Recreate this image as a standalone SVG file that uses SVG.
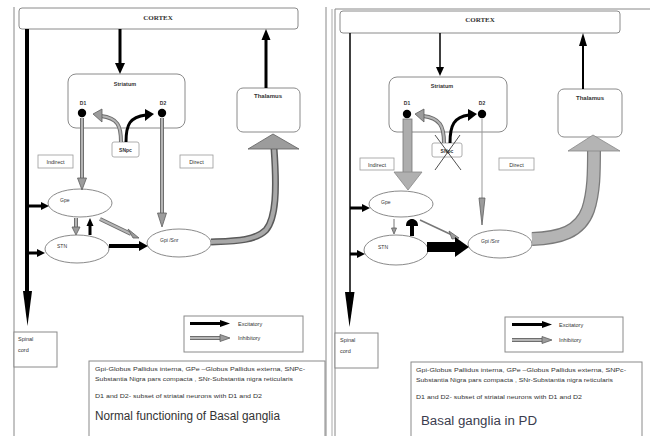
<svg xmlns="http://www.w3.org/2000/svg" width="650" height="436" viewBox="0 0 650 436">
<style>
.box{fill:#fff;stroke:#8a8a8a;stroke-width:1}
.lbl{fill:#fff;stroke:#999;stroke-width:0.8}
.t{font-family:"Liberation Sans",Arial,sans-serif;fill:#333}
.s{font-size:5.5px}
.b{font-weight:bold}
.cx{font-family:"Liberation Serif","Times New Roman",serif;font-size:7px;font-weight:bold;fill:#333}
.ex{stroke:#000;fill:none}
.hx{fill:#000}
.io{stroke:#6e6e6e;fill:none;stroke-width:4}
.ii{stroke:#b5b5b5;fill:none;stroke-width:2}
.hi{fill:#9c9c9c;stroke:#5e5e5e;stroke-width:0.8}
.frame{stroke:#888;stroke-width:1;fill:none}
</style>

<!-- LEFT PANEL -->
<g id="left-frame">
<line class="frame" x1="14" y1="7" x2="14" y2="436"/>
<line class="frame" x1="326" y1="7" x2="326" y2="436"/>
</g>
<g id="L-cortex"><rect class="box" x="19" y="8" width="279" height="21" rx="3"/><text class="cx" x="158" y="20" text-anchor="middle">CORTEX</text></g>
<g id="L-striatum"><rect class="box" x="68" y="74" width="117" height="54" rx="8"/><text class="t s b" x="125" y="86" text-anchor="middle">Striatum</text>
<text class="t b" font-size="5" x="83" y="105" text-anchor="middle">D1</text><circle cx="82" cy="113" r="4.2" fill="#000"/>
<text class="t b" font-size="5" x="163" y="105" text-anchor="middle">D2</text><circle cx="162" cy="113" r="4.2" fill="#000"/></g>
<g id="L-thalamus"><rect class="box" x="237" y="88" width="63" height="44" rx="6"/><text class="t b" font-size="6" x="268" y="98" text-anchor="middle">Thalamus</text></g>
<g id="L-snpc"><rect class="lbl" x="112" y="142" width="27" height="15" rx="2"/><text class="t b" font-size="5" x="125.5" y="152" text-anchor="middle">SNpc</text></g>
<g id="L-indirect"><rect class="lbl" x="38" y="155" width="35" height="13"/><text class="t s" x="55.5" y="164" text-anchor="middle">Indirect</text></g>
<g id="L-direct"><rect class="lbl" x="180" y="155" width="33" height="13"/><text class="t s" x="196.5" y="164" text-anchor="middle">Direct</text></g>
<g id="L-gpe"><ellipse class="box" cx="80" cy="203" rx="32" ry="14"/><text class="t" font-size="5" x="60" y="202">Gpe</text></g>
<g id="L-stn"><ellipse class="box" cx="77" cy="249" rx="32" ry="14"/><text class="t" font-size="5" x="57" y="248">STN</text></g>
<g id="L-gpi"><ellipse class="box" cx="179" cy="243" rx="32" ry="14"/><text class="t" font-size="5" x="160" y="242">Gpi /Snr</text></g>
<g id="L-spinal"><rect class="box" x="14" y="332" width="43" height="35"/><text class="t s" x="18" y="341">Spinal</text><text class="t s" x="18" y="352">cord</text></g>
<g id="L-legend"><rect class="box" x="184" y="316" width="119" height="36"/>
<line class="ex" stroke-width="3" x1="190" y1="323.5" x2="221" y2="323.5"/><polygon class="hx" points="220,320 230,323.5 220,327"/>
<text class="t s" x="238" y="325.5">Excitatory</text>
<line class="io" x1="190" y1="338" x2="221" y2="338"/><line class="ii" x1="190" y1="338" x2="221" y2="338"/><polygon class="hi" points="220,334.5 230,338 220,341.5"/>
<text class="t s" x="238" y="340">Inhibitory</text></g>
<g id="L-notes"><rect class="box" x="89" y="361" width="236" height="80"/>
<text class="t" font-size="5.5" x="95" y="371" textLength="210" lengthAdjust="spacingAndGlyphs">Gpi-Globus Pallidus interna, GPe –Globus Pallidus externa, SNPc-</text>
<text class="t" font-size="5.5" x="95" y="381" textLength="198" lengthAdjust="spacingAndGlyphs">Substantia Nigra pars compacta , SNr-Substantia nigra reticularis</text>
<text class="t" font-size="5.5" x="95" y="398" textLength="167" lengthAdjust="spacingAndGlyphs">D1 and D2- subset of  striatal neurons with D1 and D2</text>
<text class="t" font-size="12" x="95" y="420" textLength="185" lengthAdjust="spacingAndGlyphs">Normal  functioning of Basal  ganglia</text></g>

<g id="L-connectors">
<line class="ex" stroke-width="4" x1="27" y1="29" x2="27" y2="296"/><polygon class="hx" points="23,291 32,291 27.5,326"/>
<line class="ex" stroke-width="3" x1="120" y1="29" x2="120" y2="64"/><polygon class="hx" points="115,63 125,63 120,74"/>
<line class="ex" stroke-width="3" x1="266" y1="88" x2="266" y2="39"/><polygon class="hx" points="261.5,40 270.5,40 266,29"/>
<path class="io" d="M121,142 C121,126 118,118 101,116"/><path class="ii" d="M121,142 C121,126 118,118 101,116"/><polygon class="hi" points="102,109 102,122 93,114"/>
<path class="ex" stroke-width="3" d="M126,142 C126,124 130,117 146,115"/><polygon class="hx" points="145,109 145,121 154,114"/>
<line class="io" x1="82" y1="118" x2="82" y2="179"/><line class="ii" x1="82" y1="118" x2="82" y2="179"/><polygon class="hi" points="77.5,178 86.5,178 82,190"/>
<line class="io" x1="162" y1="118" x2="162" y2="215"/><line class="ii" x1="162" y1="118" x2="162" y2="215"/><polygon class="hi" points="157.5,213 166.5,213 162,227"/>
<line class="ex" stroke-width="3" x1="27" y1="206" x2="42" y2="206"/><polygon class="hx" points="41,202 49,206 41,210"/>
<line class="ex" stroke-width="3" x1="27" y1="253" x2="38" y2="253"/><polygon class="hx" points="37,249 45,253 37,257"/>
<line class="io" x1="76" y1="218" x2="76" y2="228"/><line class="ii" x1="76" y1="218" x2="76" y2="228"/><polygon class="hi" points="72,227 80,227 76,235"/>
<line class="ex" stroke-width="3" x1="90" y1="235" x2="90" y2="225"/><polygon class="hx" points="86.5,226 93.5,226 90,218"/>
<line class="io" x1="100" y1="219" x2="131" y2="234"/><line class="ii" x1="100" y1="219" x2="131" y2="234"/><polygon class="hi" points="128,229 133,238 139,238"/>
<line class="ex" stroke-width="4" x1="109" y1="246" x2="140" y2="246"/><polygon class="hx" points="139,241 148,246 139,251"/>
<path stroke="#5a5a5a" stroke-width="7" fill="none" d="M211,242 C235,241 255,241 266,230 C276,218 277,190 274,148"/>
<path stroke="#a8a8a8" stroke-width="4" fill="none" d="M211,242 C235,241 255,241 266,230 C276,218 277,190 274,148"/>
<polygon class="hi" points="248,149 299,149 273,134"/>
</g>

<!-- RIGHT PANEL -->
<g id="right-frame">
<line stroke="#aaa" stroke-width="1" x1="332" y1="9" x2="332" y2="436"/>
<line class="frame" x1="335" y1="9" x2="335" y2="436"/>
<line class="frame" x1="335" y1="9" x2="650" y2="9"/>
</g>
<g id="R-cortex"><rect class="box" x="340" y="11" width="280" height="22" rx="3"/><text class="cx" x="480" y="22" text-anchor="middle">CORTEX</text></g>
<g id="R-striatum"><rect class="box" x="389" y="77" width="118" height="55" rx="8"/><text class="t s b" x="442" y="88" text-anchor="middle">Striatum</text>
<text class="t b" font-size="5" x="407" y="105" text-anchor="middle">D1</text><circle cx="407" cy="114" r="4.2" fill="#000"/>
<text class="t b" font-size="5" x="482" y="105" text-anchor="middle">D2</text><circle cx="482" cy="114" r="4.2" fill="#000"/></g>
<g id="R-thalamus"><rect class="box" x="558" y="89" width="64" height="48" rx="6"/><text class="t b" font-size="6" x="590" y="100" text-anchor="middle">Thalamus</text></g>
<g id="R-snpc"><rect class="lbl" x="432" y="143" width="30" height="14" rx="2"/><text class="t b" font-size="5" x="447" y="153" text-anchor="middle" fill="#888">SNpc</text>
<line stroke="#222" stroke-width="0.8" x1="435" y1="135" x2="461" y2="170"/><line stroke="#222" stroke-width="0.8" x1="460" y1="135" x2="435" y2="170"/></g>
<g id="R-indirect"><rect class="lbl" x="360" y="158" width="34" height="12"/><text class="t s" x="377" y="166.5" text-anchor="middle">Indirect</text></g>
<g id="R-direct"><rect class="lbl" x="499" y="158" width="35" height="12"/><text class="t s" x="516.5" y="166.5" text-anchor="middle">Direct</text></g>
<g id="R-gpe"><ellipse class="box" cx="401" cy="204" rx="32" ry="13"/><text class="t" font-size="5" x="381" y="204">Gpe</text></g>
<g id="R-stn"><ellipse class="box" cx="396" cy="250" rx="32" ry="15"/><text class="t" font-size="5" x="378" y="249">STN</text></g>
<g id="R-gpi"><ellipse class="box" cx="500" cy="244" rx="32" ry="14"/><text class="t" font-size="5" x="481" y="243">Gpi /Snr</text></g>
<g id="R-spinal"><rect class="box" x="335" y="333" width="43" height="35"/><text class="t s" x="340" y="342">Spinal</text><text class="t s" x="340" y="353">cord</text></g>
<g id="R-legend"><rect class="box" x="505" y="317" width="118" height="35"/>
<line class="ex" stroke-width="3" x1="512" y1="324.5" x2="543" y2="324.5"/><polygon class="hx" points="542,321 552,324.5 542,328"/>
<text class="t s" x="559" y="326.5">Excitatory</text>
<line class="io" x1="512" y1="340" x2="543" y2="340"/><line class="ii" x1="512" y1="340" x2="543" y2="340"/><polygon class="hi" points="542,336.5 552,340 542,343.5"/>
<text class="t s" x="559" y="342">Inhibitory</text></g>
<g id="R-notes"><rect class="box" x="411" y="362" width="231" height="80"/>
<text class="t" font-size="5.5" x="416" y="372" textLength="210" lengthAdjust="spacingAndGlyphs">Gpi-Globus Pallidus interna, GPe –Globus Pallidus externa, SNPc-</text>
<text class="t" font-size="5.5" x="416" y="382" textLength="197" lengthAdjust="spacingAndGlyphs">Substantia Nigra pars compacta , SNr-Substantia nigra reticularis</text>
<text class="t" font-size="5.5" x="416" y="399" textLength="166" lengthAdjust="spacingAndGlyphs">D1 and D2- subset of  striatal neurons with D1 and D2</text>
<text font-family="'Liberation Sans',Arial,sans-serif" font-size="12" fill="#3a3c4e" x="421" y="425" textLength="116" lengthAdjust="spacingAndGlyphs">Basal ganglia in PD</text></g>

<g id="R-connectors">
<line class="ex" stroke-width="1.5" x1="350" y1="33" x2="350" y2="296"/><polygon class="hx" points="345,292 354.5,292 349.5,327"/>
<line class="ex" stroke-width="1.5" x1="440" y1="33" x2="440" y2="68"/><polygon class="hx" points="436,67 444,67 440,76"/>
<line class="ex" stroke-width="2" x1="583" y1="89" x2="583" y2="45"/><polygon class="hx" points="579,46 587,46 583,33"/>
<path class="io" d="M444,143 C444,126 440,118 423,116"/><path class="ii" d="M444,143 C444,126 440,118 423,116"/><polygon class="hi" points="424,109 424,122 415,114"/>
<path class="ex" stroke-width="3" d="M450,143 C450,125 454,117 469,115"/><polygon class="hx" points="468,109 468,121 477,114"/>
<rect x="403" y="119" width="9" height="54" fill="#adadad" stroke="#777" stroke-width="0.8"/><polygon points="394,172 422,172 408,190" fill="#b0b0b0" stroke="#888" stroke-width="0.8"/>
<line stroke="#999" stroke-width="1" x1="482" y1="119" x2="482" y2="200"/><polygon class="hi" points="479,198 485,198 482,225"/>
<line class="ex" stroke-width="3" x1="350" y1="208" x2="363" y2="208"/><polygon class="hx" points="362,204 370,208 362,212"/>
<line class="ex" stroke-width="3" x1="350" y1="254" x2="358" y2="254"/><polygon class="hx" points="357,250 365,254 357,258"/>
<line stroke="#777" stroke-width="1" x1="394" y1="219" x2="394" y2="229"/><polygon class="hi" points="391.5,228 396.5,228 394,234"/>
<line class="ex" stroke-width="4" x1="412" y1="236" x2="412" y2="224"/><path class="hx" d="M406,226 C406,221 409,219 412,219 C415,219 418,221 418,226 Z"/>
<line stroke="#777" stroke-width="1.5" x1="420" y1="220" x2="452" y2="235"/><polygon class="hi" points="449,231 452,239 459,238"/>
<line class="ex" stroke-width="10" x1="427" y1="247" x2="456" y2="247"/><polygon class="hx" points="455,237 455,257 469,247"/>
<path stroke="#7a7a7a" stroke-width="14" fill="none" d="M532,239 C560,238 580,232 588,210 C594,192 594,172 594,149"/>
<path stroke="#b4b4b4" stroke-width="11.5" fill="none" d="M532,239 C560,238 580,232 588,210 C594,192 594,172 594,149"/>
<polygon points="568,151 620,151 593,135" fill="#b4b4b4" stroke="#888" stroke-width="0.8"/>
</g>
</svg>
